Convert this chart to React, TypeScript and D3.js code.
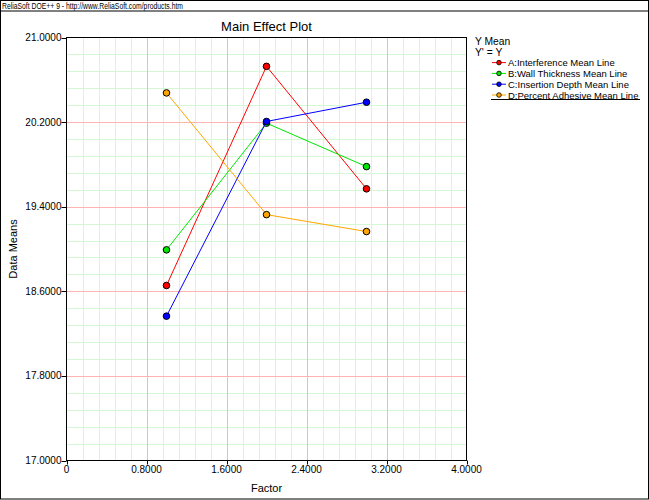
import React from "react";
import * as d3 from "d3";

const headerText = "ReliaSoft DOE++ 9 - http://www.ReliaSoft.com/products.htm";
const chartTitle = "Main Effect Plot";
const xTitle = "Factor";
const yTitle = "Data Means";
const legendHeader = ["Y Mean", "Y' = Y"];

const levels = [1, 2, 3];
const seriesNames = [
  "A:Interference Mean Line",
  "B:Wall Thickness Mean Line",
  "C:Insertion Depth Mean Line",
  "D:Percent Adhesive Mean Line",
];
const seriesA = [18.655, 20.727, 19.569];
const seriesB = [18.992, 20.19, 19.779];
const seriesC = [18.365, 20.206, 20.388];
const seriesD = [20.476, 19.325, 19.165];
const seriesColors = ["#ff0000", "#00e600", "#0000ff", "#ffa500"];

const xTicks = [0, 0.8, 1.6, 2.4, 3.2, 4.0];
const yTicks = [17.0, 17.8, 18.6, 19.4, 20.2, 21.0];
const xMinorStep = 0.16;
const yMinorStep = 0.16;

const W = 649;
const H = 500;
const plot = { left: 66.5, right: 466.5, top: 37.5, bottom: 460.5 };
const FONT = "'Liberation Sans', Arial, sans-serif";

export default function App() {
  const x = d3.scaleLinear().domain([0, 4]).range([plot.left, plot.right]);
  const y = d3.scaleLinear().domain([17, 21]).range([plot.bottom, plot.top]);

  const xMinor = d3.range(0, 4 + 1e-9, xMinorStep).filter(
    (v) => !xTicks.some((t) => Math.abs(t - v) < 1e-6)
  );
  const yMinor = d3.range(17, 21 + 1e-9, yMinorStep).filter(
    (v) => !yTicks.some((t) => Math.abs(t - v) < 1e-6)
  );

  const allSeries = [seriesA, seriesB, seriesC, seriesD];
  const line = d3
    .line<number>()
    .x((_, i) => x(levels[i]))
    .y((d) => y(d));

  const legendX = 475;
  const legendY0 = 41;
  const legendStep = 10.8;

  return (
    <svg
      width={W}
      height={H}
      style={{ position: "absolute", left: 0, top: 0, background: "#fff" }}
      fontFamily={FONT}
    >
      <rect x={0.5} y={0.5} width={W - 1} height={H - 1.5} fill="#fff" stroke="#000" />
      <text x={2} y={8.5} fontSize={8.5} fill="#000" textLength={181} lengthAdjust="spacingAndGlyphs">
        {headerText}
      </text>
      <line x1={0} x2={W} y1={11} y2={11} stroke="#000" />

      <text x={(plot.left + plot.right) / 2} y={31} fontSize={13} textAnchor="middle" fill="#000">
        {chartTitle}
      </text>

      {/* grid */}
      {xMinor.map((v, i) => (
        <line key={"xm" + i} x1={Math.round(x(v)) + 0.5} x2={Math.round(x(v)) + 0.5} y1={plot.top} y2={plot.bottom} stroke="#d4f8d4" />
      ))}
      {yMinor.map((v, i) => (
        <line key={"ym" + i} y1={Math.round(y(v)) + 0.5} y2={Math.round(y(v)) + 0.5} x1={plot.left} x2={plot.right} stroke="#d4f8d4" />
      ))}
      {xTicks.slice(1, -1).map((v, i) => (
        <line key={"xM" + i} x1={Math.round(x(v)) + 0.5} x2={Math.round(x(v)) + 0.5} y1={plot.top} y2={plot.bottom} stroke="#ffb4b4" />
      ))}
      {yTicks.slice(1, -1).map((v, i) => (
        <line key={"yM" + i} y1={Math.round(y(v)) + 0.5} y2={Math.round(y(v)) + 0.5} x1={plot.left} x2={plot.right} stroke="#ffb4b4" />
      ))}

      {/* frame */}
      <rect x={plot.left} y={plot.top} width={plot.right - plot.left} height={plot.bottom - plot.top} fill="none" stroke="#000" />

      {/* axes ticks and labels */}
      {yTicks.map((v, i) => (
        <g key={"yt" + i}>
          <line x1={plot.left - 5} x2={plot.left} y1={Math.round(y(v)) + 0.5} y2={Math.round(y(v)) + 0.5} stroke="#000" />
          <text x={plot.left - 5} y={y(v) + 3.5} fontSize={10} textAnchor="end" fill="#000">
            {v.toFixed(4)}
          </text>
        </g>
      ))}
      {xTicks.map((v, i) => (
        <g key={"xt" + i}>
          <line x1={Math.round(x(v)) + 0.5} x2={Math.round(x(v)) + 0.5} y1={plot.bottom} y2={plot.bottom + 4} stroke="#000" />
          <text x={x(v)} y={plot.bottom + 12} fontSize={10} textAnchor="middle" fill="#000">
            {v === 0 ? "0" : v.toFixed(4)}
          </text>
        </g>
      ))}
      <text x={(plot.left + plot.right) / 2} y={492} fontSize={11} textAnchor="middle" fill="#000">
        {xTitle}
      </text>
      <text
        transform={`translate(17,${(plot.top + plot.bottom) / 2}) rotate(-90)`}
        fontSize={11}
        textAnchor="middle"
        fill="#000"
      >
        {yTitle}
      </text>

      {/* series */}
      {allSeries.map((s, si) => (
        <g key={"s" + si}>
          <path d={line(s) || ""} fill="none" stroke={seriesColors[si]} strokeWidth={1} />
          {s.map((v, i) => (
            <circle key={i} cx={x(levels[i])} cy={y(v)} r={3.3} fill={seriesColors[si]} stroke="#000" strokeWidth={1} />
          ))}
        </g>
      ))}

      {/* legend */}
      {legendHeader.map((t, i) => (
        <text key={"lh" + i} x={legendX} y={legendY0 + 3.8 + i * legendStep} fontSize={10.3} fill="#000">
          {t}
        </text>
      ))}
      {seriesNames.map((name, i) => {
        const cy = legendY0 + (i + 2) * legendStep;
        return (
          <g key={"lg" + i}>
            <line x1={492} x2={506} y1={cy} y2={cy} stroke={seriesColors[i]} />
            <circle cx={499} cy={cy} r={2.3} fill={seriesColors[i]} stroke="#000" strokeWidth={0.8} />
            <text x={508} y={cy + 3.6} fontSize={9.5} fill="#000">
              {name}
            </text>
          </g>
        );
      })}
      <line x1={491} x2={640} y1={99.5} y2={99.5} stroke="#000" />
    </svg>
  );
}
